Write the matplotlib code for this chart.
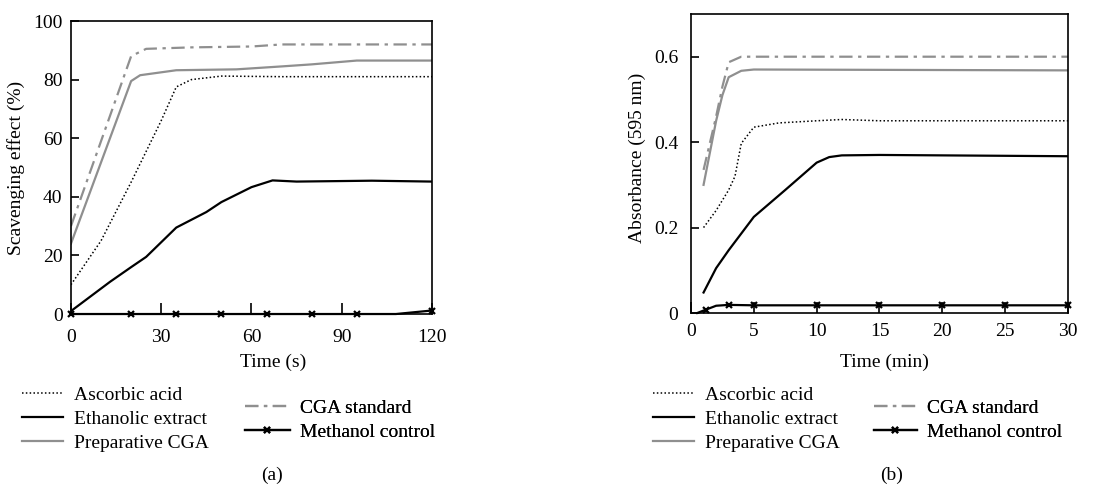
import matplotlib
matplotlib.use("Agg")
import matplotlib.pyplot as plt

plt.rcParams['font.family'] = ['Liberation Serif', 'DejaVu Serif']
plt.rcParams['font.size'] = 14

# ---- panel (a): scavenging effect vs time (s)
a_asc_x = [0, 10, 20, 30, 35, 40, 50, 70, 120]
a_asc_y = [10, 25, 45, 66, 77.5, 80, 81.2, 81, 81]
a_eth_x = [0, 13, 20, 25, 35, 45, 50, 60, 67, 75, 100, 120]
a_eth_y = [1, 11, 16, 19.5, 29.5, 34.8, 38.2, 43.3, 45.6, 45.2, 45.5, 45.2]
a_prep_x = [0, 20, 23, 35, 55, 70, 80, 95, 120]
a_prep_y = [24, 79.5, 81.5, 83.2, 83.5, 84.5, 85.2, 86.5, 86.5]
a_std_x = [0, 20, 25, 40, 60, 70, 120]
a_std_y = [30, 88, 90.5, 91, 91.3, 92, 92]
a_meth_x = [0, 20, 35, 50, 65, 80, 95, 108, 120]
a_meth_y = [0, 0, 0, 0, 0, 0, 0, 0, 1.2]

# ---- panel (b): absorbance vs time (min)
b_asc_x = [1, 2, 3, 3.5, 4, 5, 7, 10, 12, 15, 30]
b_asc_y = [0.2, 0.24, 0.288, 0.32, 0.397, 0.435, 0.445, 0.45, 0.453, 0.45, 0.45]
b_eth_x = [1, 2, 3, 5, 7.5, 10, 11, 12, 15, 30]
b_eth_y = [0.048, 0.105, 0.147, 0.225, 0.288, 0.352, 0.365, 0.369, 0.37, 0.367]
b_prep_x = [1, 2, 2.5, 3, 4, 5, 30]
b_prep_y = [0.30, 0.45, 0.51, 0.552, 0.567, 0.57, 0.568]
b_std_x = [1, 2, 2.5, 3, 4, 30]
b_std_y = [0.335, 0.46, 0.53, 0.587, 0.6, 0.6]
b_meth_x = [0.5, 1.2, 2, 3, 5, 10, 15, 20, 25, 30]
b_meth_y = [0, 0.008, 0.017, 0.019, 0.018, 0.018, 0.018, 0.018, 0.018, 0.018]

gray = '#8f8f8f'

fig = plt.figure(figsize=(11.12, 4.84), dpi=100)
ax1 = fig.add_axes([0.0638, 0.3512, 0.3247, 0.6054])
ax2 = fig.add_axes([0.6214, 0.3533, 0.339, 0.6178])


def draw(ax, d):
    l1, = ax.plot(d[0], d[1], color='black', ls=(0, (1, 1.5)), lw=1.1, label='Ascorbic acid')
    l2, = ax.plot(d[2], d[3], color='black', lw=1.6, label='Ethanolic extract')
    l3, = ax.plot(d[4], d[5], color=gray, lw=1.6, label='Preparative CGA')
    l4, = ax.plot(d[6], d[7], color=gray, ls=(0, (6, 2.5, 1.5, 2.5)), lw=1.6, label='CGA standard')
    l5, = ax.plot(d[8], d[9], color='black', lw=1.6, marker='x', ms=4.5, mew=1.6,
                  markevery=d[10], label='Methanol control', clip_on=False)
    return [l1, l2, l3], [l4, l5]


h1a, h2a = draw(ax1, [a_asc_x, a_asc_y, a_eth_x, a_eth_y, a_prep_x, a_prep_y,
                      a_std_x, a_std_y, a_meth_x, a_meth_y, [0, 1, 2, 3, 4, 5, 6, 8]])
h1b, h2b = draw(ax2, [b_asc_x, b_asc_y, b_eth_x, b_eth_y, b_prep_x, b_prep_y,
                      b_std_x, b_std_y, b_meth_x, b_meth_y, [1, 3, 4, 5, 6, 7, 8, 9]])

ax1.set_xlim(0, 120)
ax1.set_ylim(0, 100)
ax1.set_xticks([0, 30, 60, 90, 120])
ax1.set_yticks([0, 20, 40, 60, 80, 100])
ax1.tick_params(axis='x', direction='in', length=8, width=1.2, pad=11)
ax1.tick_params(axis='y', direction='in', length=6, width=1.2, pad=6)
ax1.set_ylabel('Scavenging effect (%)')
ax1.yaxis.set_label_coords(-0.127, 0.5)

ax2.set_xlim(0, 30)
ax2.set_ylim(0, 0.7)
ax2.set_xticks([0, 5, 10, 15, 20, 25, 30])
ax2.set_yticks([0, 0.2, 0.4, 0.6])
ax2.set_yticklabels(['0', '0.2', '0.4', '0.6'])
ax2.tick_params(axis='x', direction='in', length=8, width=1.2, pad=7)
ax2.tick_params(axis='y', direction='in', length=6, width=1.2, pad=9)
ax2.set_ylabel('Absorbance (595 nm)')
ax2.yaxis.set_label_coords(-0.119, 0.52)

for ax in (ax1, ax2):
    for s in ax.spines.values():
        s.set_linewidth(1.2)

fig.text(273 / 1112, 1 - 362 / 484, 'Time (s)', ha='center', va='center')
fig.text(884 / 1112, 1 - 362 / 484, 'Time (min)', ha='center', va='center')
fig.text(272 / 1112, 1 - 475 / 484, '(a)', ha='center', va='center')
fig.text(892 / 1112, 1 - 475 / 484, '(b)', ha='center', va='center')


def add_legend(ax, handles, x, y, hl):
    leg = ax.legend(handles=handles, loc='upper left', bbox_to_anchor=(x / 1112, 1 - y / 484),
                    bbox_transform=fig.transFigure, frameon=False, borderpad=0, borderaxespad=0,
                    handlelength=hl, handletextpad=0.55, labelspacing=0.33)
    ax.add_artist(leg)


add_legend(ax1, h1a, 22, 386, 2.1)
add_legend(ax1, h2a, 245, 399, 2.3)
add_legend(ax2, h1b, 653, 386, 2.1)
add_legend(ax2, h2b, 874, 399, 2.2)

fig.savefig('out.png', dpi=100)
